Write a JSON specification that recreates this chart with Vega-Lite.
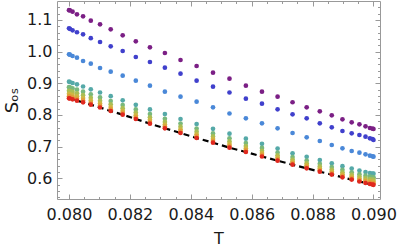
{
"$schema": "https://vega.github.io/schema/vega-lite/v6.json",
"width": 323, "height": 198,
"autosize": {"type": "none"},
"padding": {"left": 57, "top": 1, "right": 19, "bottom": 52},
"config": {"view": {"stroke": null}, "font": "DejaVu Sans"},
"data": {"values": [
{"T":0.08,"s":"a","S":1.131},{"T":0.0800293,"s":"a","S":1.1302},{"T":0.0801169,"s":"a","S":1.1262},{"T":0.0802618,"s":"a","S":1.118},{"T":0.0804621,"s":"a","S":1.1117},{"T":0.0807158,"s":"a","S":1.0978},{"T":0.0810196,"s":"a","S":1.0864},{"T":0.08137,"s":"a","S":1.0706},{"T":0.0817631,"s":"a","S":1.0517},{"T":0.0821941,"s":"a","S":1.0327},{"T":0.082658,"s":"a","S":1.0138},{"T":0.0831493,"s":"a","S":0.9958},{"T":0.0836624,"s":"a","S":0.9737},{"T":0.0841911,"s":"a","S":0.9547},{"T":0.0847294,"s":"a","S":0.9335},{"T":0.0852706,"s":"a","S":0.9146},{"T":0.0858089,"s":"a","S":0.8925},{"T":0.0863376,"s":"a","S":0.8735},{"T":0.0868507,"s":"a","S":0.8577},{"T":0.087342,"s":"a","S":0.8401},{"T":0.0878059,"s":"a","S":0.8243},{"T":0.0882369,"s":"a","S":0.8116},{"T":0.08863,"s":"a","S":0.799},{"T":0.0889804,"s":"a","S":0.7864},{"T":0.0892842,"s":"a","S":0.7769},{"T":0.0895379,"s":"a","S":0.7706},{"T":0.0897382,"s":"a","S":0.7642},{"T":0.0898831,"s":"a","S":0.7589},{"T":0.0899707,"s":"a","S":0.7567},{"T":0.09,"s":"a","S":0.7557},
{"T":0.08,"s":"b","S":1.0738},{"T":0.0800293,"s":"b","S":1.0722},{"T":0.0801169,"s":"b","S":1.0675},{"T":0.0802618,"s":"b","S":1.0612},{"T":0.0804621,"s":"b","S":1.0548},{"T":0.0807158,"s":"b","S":1.0425},{"T":0.0810196,"s":"b","S":1.0305},{"T":0.08137,"s":"b","S":1.0169},{"T":0.0817631,"s":"b","S":1.0021},{"T":0.0821941,"s":"b","S":0.9831},{"T":0.082658,"s":"b","S":0.9673},{"T":0.0831493,"s":"b","S":0.9493},{"T":0.0836624,"s":"b","S":0.9304},{"T":0.0841911,"s":"b","S":0.9083},{"T":0.0847294,"s":"b","S":0.8893},{"T":0.0852706,"s":"b","S":0.871},{"T":0.0858089,"s":"b","S":0.8514},{"T":0.0863376,"s":"b","S":0.8356},{"T":0.0868507,"s":"b","S":0.8179},{"T":0.087342,"s":"b","S":0.8021},{"T":0.0878059,"s":"b","S":0.7895},{"T":0.0882369,"s":"b","S":0.7737},{"T":0.08863,"s":"b","S":0.7611},{"T":0.0889804,"s":"b","S":0.7494},{"T":0.0892842,"s":"b","S":0.7421},{"T":0.0895379,"s":"b","S":0.7368},{"T":0.0897382,"s":"b","S":0.7314},{"T":0.0898831,"s":"b","S":0.7263},{"T":0.0899707,"s":"b","S":0.7241},{"T":0.09,"s":"b","S":0.721},
{"T":0.08,"s":"c","S":0.9917},{"T":0.0800293,"s":"c","S":0.9904},{"T":0.0801169,"s":"c","S":0.9863},{"T":0.0802618,"s":"c","S":0.9809},{"T":0.0804621,"s":"c","S":0.9705},{"T":0.0807158,"s":"c","S":0.962},{"T":0.0810196,"s":"c","S":0.9484},{"T":0.08137,"s":"c","S":0.9367},{"T":0.0817631,"s":"c","S":0.9241},{"T":0.0821941,"s":"c","S":0.9083},{"T":0.082658,"s":"c","S":0.8925},{"T":0.0831493,"s":"c","S":0.8735},{"T":0.0836624,"s":"c","S":0.8577},{"T":0.0841911,"s":"c","S":0.8419},{"T":0.0847294,"s":"c","S":0.8243},{"T":0.0852706,"s":"c","S":0.8047},{"T":0.0858089,"s":"c","S":0.7895},{"T":0.0863376,"s":"c","S":0.7737},{"T":0.0868507,"s":"c","S":0.7579},{"T":0.087342,"s":"c","S":0.7431},{"T":0.0878059,"s":"c","S":0.7295},{"T":0.0882369,"s":"c","S":0.7178},{"T":0.08863,"s":"c","S":0.7052},{"T":0.0889804,"s":"c","S":0.6948},{"T":0.0892842,"s":"c","S":0.6862},{"T":0.0895379,"s":"c","S":0.6809},{"T":0.0897382,"s":"c","S":0.6758},{"T":0.0898831,"s":"c","S":0.6714},{"T":0.0899707,"s":"c","S":0.6695},{"T":0.09,"s":"c","S":0.6682},
{"T":0.08,"s":"d","S":0.9051},{"T":0.0800293,"s":"d","S":0.9042},{"T":0.0801169,"s":"d","S":0.901},{"T":0.0802618,"s":"d","S":0.8969},{"T":0.0804621,"s":"d","S":0.89},{"T":0.0807158,"s":"d","S":0.8811},{"T":0.0810196,"s":"d","S":0.871},{"T":0.08137,"s":"d","S":0.8593},{"T":0.0817631,"s":"d","S":0.8464},{"T":0.0821941,"s":"d","S":0.8322},{"T":0.082658,"s":"d","S":0.8176},{"T":0.0831493,"s":"d","S":0.8028},{"T":0.0836624,"s":"d","S":0.7873},{"T":0.0841911,"s":"d","S":0.7715},{"T":0.0847294,"s":"d","S":0.7563},{"T":0.0852706,"s":"d","S":0.7409},{"T":0.0858089,"s":"d","S":0.7251},{"T":0.0863376,"s":"d","S":0.709},{"T":0.0868507,"s":"d","S":0.6938},{"T":0.087342,"s":"d","S":0.679},{"T":0.0878059,"s":"d","S":0.6679},{"T":0.0882369,"s":"d","S":0.6578},{"T":0.08863,"s":"d","S":0.6474},{"T":0.0889804,"s":"d","S":0.6382},{"T":0.0892842,"s":"d","S":0.6306},{"T":0.0895379,"s":"d","S":0.6246},{"T":0.0897382,"s":"d","S":0.6199},{"T":0.0898831,"s":"d","S":0.6167},{"T":0.0899707,"s":"d","S":0.6152},{"T":0.09,"s":"d","S":0.6145},
{"T":0.08,"s":"e","S":0.8878},{"T":0.0800293,"s":"e","S":0.887},{"T":0.0801169,"s":"e","S":0.884},{"T":0.0802618,"s":"e","S":0.8798},{"T":0.0804621,"s":"e","S":0.8735},{"T":0.0807158,"s":"e","S":0.8651},{"T":0.0810196,"s":"e","S":0.8554},{"T":0.08137,"s":"e","S":0.8439},{"T":0.0817631,"s":"e","S":0.8314},{"T":0.0821941,"s":"e","S":0.8174},{"T":0.082658,"s":"e","S":0.8027},{"T":0.0831493,"s":"e","S":0.788},{"T":0.0836624,"s":"e","S":0.7727},{"T":0.0841911,"s":"e","S":0.7569},{"T":0.0847294,"s":"e","S":0.7418},{"T":0.0852706,"s":"e","S":0.7263},{"T":0.0858089,"s":"e","S":0.7112},{"T":0.0863376,"s":"e","S":0.6958},{"T":0.0868507,"s":"e","S":0.6812},{"T":0.087342,"s":"e","S":0.6671},{"T":0.0878059,"s":"e","S":0.6559},{"T":0.0882369,"s":"e","S":0.6456},{"T":0.08863,"s":"e","S":0.6356},{"T":0.0889804,"s":"e","S":0.6267},{"T":0.0892842,"s":"e","S":0.6191},{"T":0.0895379,"s":"e","S":0.6131},{"T":0.0897382,"s":"e","S":0.6084},{"T":0.0898831,"s":"e","S":0.6052},{"T":0.0899707,"s":"e","S":0.6036},{"T":0.09,"s":"e","S":0.603},
{"T":0.08,"s":"f","S":0.8763},{"T":0.0800293,"s":"f","S":0.8755},{"T":0.0801169,"s":"f","S":0.8727},{"T":0.0802618,"s":"f","S":0.8684},{"T":0.0804621,"s":"f","S":0.8625},{"T":0.0807158,"s":"f","S":0.8544},{"T":0.0810196,"s":"f","S":0.8449},{"T":0.08137,"s":"f","S":0.8336},{"T":0.0817631,"s":"f","S":0.8214},{"T":0.0821941,"s":"f","S":0.8075},{"T":0.082658,"s":"f","S":0.7928},{"T":0.0831493,"s":"f","S":0.7781},{"T":0.0836624,"s":"f","S":0.763},{"T":0.0841911,"s":"f","S":0.7472},{"T":0.0847294,"s":"f","S":0.7322},{"T":0.0852706,"s":"f","S":0.7166},{"T":0.0858089,"s":"f","S":0.702},{"T":0.0863376,"s":"f","S":0.6869},{"T":0.0868507,"s":"f","S":0.6728},{"T":0.087342,"s":"f","S":0.6592},{"T":0.0878059,"s":"f","S":0.6479},{"T":0.0882369,"s":"f","S":0.6375},{"T":0.08863,"s":"f","S":0.6278},{"T":0.0889804,"s":"f","S":0.619},{"T":0.0892842,"s":"f","S":0.6115},{"T":0.0895379,"s":"f","S":0.6055},{"T":0.0897382,"s":"f","S":0.6008},{"T":0.0898831,"s":"f","S":0.5976},{"T":0.0899707,"s":"f","S":0.5959},{"T":0.09,"s":"f","S":0.5953},
{"T":0.08,"s":"g","S":0.8668},{"T":0.0800293,"s":"g","S":0.8662},{"T":0.0801169,"s":"g","S":0.8634},{"T":0.0802618,"s":"g","S":0.8591},{"T":0.0804621,"s":"g","S":0.8535},{"T":0.0807158,"s":"g","S":0.8456},{"T":0.0810196,"s":"g","S":0.8364},{"T":0.08137,"s":"g","S":0.8252},{"T":0.0817631,"s":"g","S":0.8132},{"T":0.0821941,"s":"g","S":0.7994},{"T":0.082658,"s":"g","S":0.7847},{"T":0.0831493,"s":"g","S":0.77},{"T":0.0836624,"s":"g","S":0.755},{"T":0.0841911,"s":"g","S":0.7392},{"T":0.0847294,"s":"g","S":0.7243},{"T":0.0852706,"s":"g","S":0.7086},{"T":0.0858089,"s":"g","S":0.6944},{"T":0.0863376,"s":"g","S":0.6797},{"T":0.0868507,"s":"g","S":0.6659},{"T":0.087342,"s":"g","S":0.6527},{"T":0.0878059,"s":"g","S":0.6414},{"T":0.0882369,"s":"g","S":0.6308},{"T":0.08863,"s":"g","S":0.6213},{"T":0.0889804,"s":"g","S":0.6127},{"T":0.0892842,"s":"g","S":0.6053},{"T":0.0895379,"s":"g","S":0.5993},{"T":0.0897382,"s":"g","S":0.5946},{"T":0.0898831,"s":"g","S":0.5914},{"T":0.0899707,"s":"g","S":0.5896},{"T":0.09,"s":"g","S":0.589},
{"T":0.08,"s":"h","S":0.859},{"T":0.0800293,"s":"h","S":0.8584},{"T":0.0801169,"s":"h","S":0.8557},{"T":0.0802618,"s":"h","S":0.8513},{"T":0.0804621,"s":"h","S":0.846},{"T":0.0807158,"s":"h","S":0.8383},{"T":0.0810196,"s":"h","S":0.8293},{"T":0.08137,"s":"h","S":0.8182},{"T":0.0817631,"s":"h","S":0.8064},{"T":0.0821941,"s":"h","S":0.7927},{"T":0.082658,"s":"h","S":0.7779},{"T":0.0831493,"s":"h","S":0.7633},{"T":0.0836624,"s":"h","S":0.7484},{"T":0.0841911,"s":"h","S":0.7326},{"T":0.0847294,"s":"h","S":0.7177},{"T":0.0852706,"s":"h","S":0.702},{"T":0.0858089,"s":"h","S":0.6881},{"T":0.0863376,"s":"h","S":0.6737},{"T":0.0868507,"s":"h","S":0.6602},{"T":0.087342,"s":"h","S":0.6473},{"T":0.0878059,"s":"h","S":0.636},{"T":0.0882369,"s":"h","S":0.6252},{"T":0.08863,"s":"h","S":0.616},{"T":0.0889804,"s":"h","S":0.6074},{"T":0.0892842,"s":"h","S":0.6001},{"T":0.0895379,"s":"h","S":0.5941},{"T":0.0897382,"s":"h","S":0.5894},{"T":0.0898831,"s":"h","S":0.5862},{"T":0.0899707,"s":"h","S":0.5843},{"T":0.09,"s":"h","S":0.5837},
{"T":0.08,"s":"i","S":0.8527},{"T":0.0800293,"s":"i","S":0.8521},{"T":0.0801169,"s":"i","S":0.8495},{"T":0.0802618,"s":"i","S":0.8451},{"T":0.0804621,"s":"i","S":0.84},{"T":0.0807158,"s":"i","S":0.8325},{"T":0.0810196,"s":"i","S":0.8236},{"T":0.08137,"s":"i","S":0.8126},{"T":0.0817631,"s":"i","S":0.8009},{"T":0.0821941,"s":"i","S":0.7873},{"T":0.082658,"s":"i","S":0.7725},{"T":0.0831493,"s":"i","S":0.7579},{"T":0.0836624,"s":"i","S":0.7431},{"T":0.0841911,"s":"i","S":0.7273},{"T":0.0847294,"s":"i","S":0.7124},{"T":0.0852706,"s":"i","S":0.6967},{"T":0.0858089,"s":"i","S":0.6831},{"T":0.0863376,"s":"i","S":0.6689},{"T":0.0868507,"s":"i","S":0.6556},{"T":0.087342,"s":"i","S":0.643},{"T":0.0878059,"s":"i","S":0.6316},{"T":0.0882369,"s":"i","S":0.6208},{"T":0.08863,"s":"i","S":0.6117},{"T":0.0889804,"s":"i","S":0.6032},{"T":0.0892842,"s":"i","S":0.5959},{"T":0.0895379,"s":"i","S":0.5899},{"T":0.0897382,"s":"i","S":0.5852},{"T":0.0898831,"s":"i","S":0.582},{"T":0.0899707,"s":"i","S":0.5801},{"T":0.09,"s":"i","S":0.5795}
]},
"layer": [
{
"transform": [{"filter": "datum.s == 'i'"}],
"mark": {"type": "line", "color": "black", "strokeDash": [6, 4], "strokeWidth": 2.2},
"encoding": {
"x": {"field": "T", "type": "quantitative",
"scale": {"domain": [0.079606, 0.090214], "nice": false, "zero": false},
"axis": {"orient": "bottom", "title": "T", "grid": false,
"values": [0.08,0.0805,0.081,0.0815,0.082,0.0825,0.083,0.0835,0.084,0.0845,0.085,0.0855,0.086,0.0865,0.087,0.0875,0.088,0.0885,0.089,0.0895,0.09],
"labelExpr": "round(datum.value*2000)%4==0 ? format(datum.value,'.3f') : ''",
"labelOverlap": false, "labelFlush": false, "labelBound": false,
"tickSize": {"condition": {"test": "round(datum.value*2000)%4==0", "value": -5}, "value": -2.5},
"labelPadding": 12, "labelFontSize": 16, "labelColor": "#1a1a1a", "labelFont": "DejaVu Sans",
"domainColor": "#999", "tickColor": "#999",
"titleFontSize": 16, "titleFontWeight": "normal", "titleColor": "#1a1a1a", "titleFont": "DejaVu Sans", "titlePadding": 6}},
"y": {"field": "S", "type": "quantitative",
"scale": {"domain": [0.5346, 1.16], "nice": false, "zero": false},
"axis": {"orient": "left", "title": "Sₒₛ", "grid": false,
"values": [0.54,0.56,0.58,0.6,0.62,0.64,0.66,0.68,0.7,0.72,0.74,0.76,0.78,0.8,0.82,0.84,0.86,0.88,0.9,0.92,0.94,0.96,0.98,1.0,1.02,1.04,1.06,1.08,1.1,1.12,1.14],
"labelExpr": "round(datum.value*50)%5==0 ? format(datum.value,'.1f') : ''",
"labelOverlap": false, "labelFlush": false, "labelBound": false,
"tickSize": {"condition": {"test": "round(datum.value*50)%5==0", "value": -5}, "value": -2.5},
"labelPadding": 10, "labelFontSize": 16, "labelColor": "#1a1a1a", "labelFont": "DejaVu Sans",
"domainColor": "#999", "tickColor": "#999",
"titleFontSize": 18, "titleFontWeight": "normal", "titleColor": "#1a1a1a", "titleFont": "DejaVu Sans", "titlePadding": 5}}
}
},
{
"mark": {"type": "circle", "size": 22, "opacity": 1},
"encoding": {
"x": {"field": "T", "type": "quantitative",
"scale": {"domain": [0.079606, 0.090214], "nice": false, "zero": false},
"axis": {"orient": "top", "title": null, "labels": false, "grid": false,
"values": [0.08,0.0805,0.081,0.0815,0.082,0.0825,0.083,0.0835,0.084,0.0845,0.085,0.0855,0.086,0.0865,0.087,0.0875,0.088,0.0885,0.089,0.0895,0.09],
"tickSize": {"condition": {"test": "round(datum.value*2000)%4==0", "value": -5}, "value": -2.5},
"domainColor": "#999", "tickColor": "#999"}},
"y": {"field": "S", "type": "quantitative",
"scale": {"domain": [0.5346, 1.16], "nice": false, "zero": false},
"axis": {"orient": "right", "title": null, "labels": false, "grid": false,
"values": [0.54,0.56,0.58,0.6,0.62,0.64,0.66,0.68,0.7,0.72,0.74,0.76,0.78,0.8,0.82,0.84,0.86,0.88,0.9,0.92,0.94,0.96,0.98,1.0,1.02,1.04,1.06,1.08,1.1,1.12,1.14],
"tickSize": {"condition": {"test": "round(datum.value*50)%5==0", "value": -5}, "value": -2.5},
"domainColor": "#999", "tickColor": "#999"}},
"color": {"field": "s", "type": "nominal", "legend": null,
"scale": {"domain": ["a","b","c","d","e","f","g","h","i"],
"range": ["#7B1F85","#4040CC","#4A88D8","#55A9A8","#79B87C","#A9BE55","#CDB743","#E39A3A","#E0281E"]}}
}
}
],
"resolve": {"axis": {"x": "independent", "y": "independent"}}
}
